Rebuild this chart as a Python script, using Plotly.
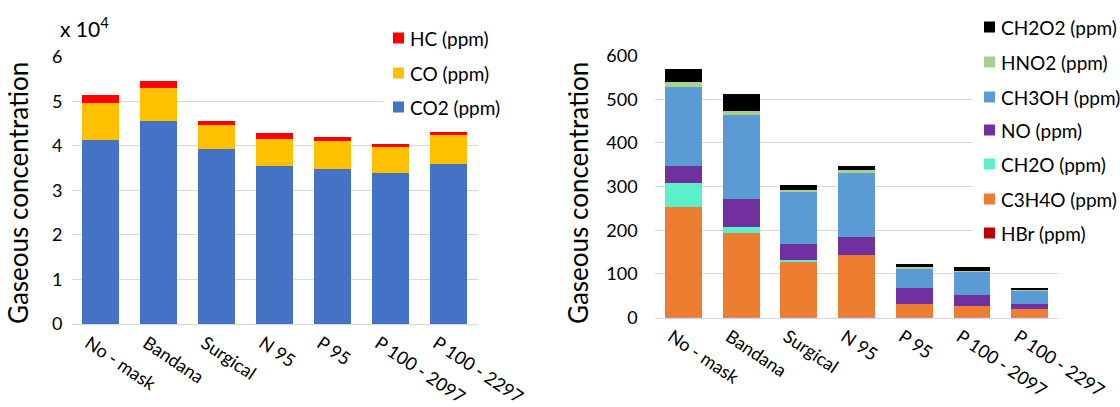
import plotly.graph_objects as go

W, H = 1120, 407
FONT = "Lato"

masks = ["No - mask", "Bandana", "Surgical", "N 95", "P 95", "P 100 - 2097", "P 100 - 2297"]

# Major exhaled gases (ppm)
co2 = [41400, 45500, 39200, 35400, 34900, 34000, 35900]
co = [8200, 7500, 5400, 6200, 6100, 5700, 6600]
hc = [1700, 1600, 1000, 1200, 1000, 600, 600]

# Minor gases (ppm)
hbr = [0.5, 0.5, 0.5, 0.5, 0.5, 0.5, 0.5]
c3h4o = [252, 193, 128, 143, 30, 27, 18]
ch2o = [55, 15, 4, 0, 0, 0, 0]
no = [40, 62, 36, 42, 36, 23, 12]
ch3oh = [180, 193, 121, 148, 46, 55, 32]
hno2 = [13, 10, 3, 4, 4, 2, 3]
ch2o2 = [30, 39, 11, 9, 7, 9, 3]

left_ticks = [0, 10000, 20000, 30000, 40000, 50000, 60000]
left_ticktext = ["0", "1", "2", "3", "4", "5", "6"]

left_series = [
    ("CO2 (ppm)", co2, "#4472C4"),
    ("CO (ppm)", co, "#FFC000"),
    ("HC (ppm)", hc, "#FF0000"),
]
right_series = [
    ("HBr (ppm)", hbr, "#C00000"),
    ("C3H4O (ppm)", c3h4o, "#ED7D31"),
    ("CH2O (ppm)", ch2o, "#5CF0CA"),
    ("NO (ppm)", no, "#7030A0"),
    ("CH3OH (ppm)", ch3oh, "#5B9BD5"),
    ("HNO2 (ppm)", hno2, "#A9D18E"),
    ("CH2O2 (ppm)", ch2o2, "#000000"),
]

fig = go.Figure()
for name, vals, col in left_series:
    fig.add_trace(go.Bar(x=masks, y=vals, name=name, marker_color=col,
                         marker_line_width=0, showlegend=False,
                         xaxis="x", yaxis="y"))
for name, vals, col in right_series:
    fig.add_trace(go.Bar(x=masks, y=vals, name=name, marker_color=col,
                         marker_line_width=0, showlegend=False,
                         xaxis="x2", yaxis="y2"))


def px_x(p):
    return p / W


def px_y(p):
    return 1 - p / H


tick_font = dict(family=FONT, size=18, color="#000000")
xaxis_common = dict(tickfont=dict(family=FONT, size=18, color="#000000"),
                    showgrid=False, ticks="", linecolor="#D9D9D9",
                    showline=True, linewidth=1, tickangle=34, automargin=False,
                    ticklabelshift=-12, ticklabelstandoff=1)
yaxis_common = dict(tickfont=tick_font, showgrid=True, gridcolor="#D9D9D9", gridwidth=1,
                    zeroline=False, showline=False, ticks="", automargin=False)

shapes = []
annotations = []


def add_legend(series, x_box, y_bottom, x_end, x_sq, rows):
    # white panel hiding the gridlines behind the key
    shapes.append(dict(type="rect", xref="paper", yref="paper", layer="above",
                       x0=px_x(x_box), x1=px_x(x_end), y0=px_y(y_bottom), y1=1,
                       fillcolor="white", line_width=0))
    for (name, _, col), yc in zip(reversed(series), rows):
        shapes.append(dict(type="rect", xref="paper", yref="paper", layer="above",
                           x0=px_x(x_sq), x1=px_x(x_sq + 11),
                           y0=px_y(yc + 5.5), y1=px_y(yc - 5.5),
                           fillcolor=col, line_width=0))
        annotations.append(dict(text=name, x=px_x(x_sq + 15), y=px_y(yc),
                                xref="paper", yref="paper", showarrow=False,
                                xanchor="left", yanchor="middle",
                                font=dict(family=FONT, size=19, color="#000000")))


add_legend(left_series, 383, 122, 477.5, 393, [38, 73, 107])
add_legend(right_series, 973, 250, 1058.6, 984, [27, 62, 97, 130, 164, 199, 233])

annotations += [
    dict(text="Gaseous concentration", textangle=-90, x=px_x(18), y=px_y(193),
         xref="paper", yref="paper", showarrow=False, xanchor="center", yanchor="middle",
         font=dict(family=FONT, size=26, color="#000000")),
    dict(text="Gaseous concentration", textangle=-90, x=px_x(578), y=px_y(193),
         xref="paper", yref="paper", showarrow=False, xanchor="center", yanchor="middle",
         font=dict(family=FONT, size=26, color="#000000")),
    dict(text="x 10<sup>4</sup>", x=px_x(58), y=px_y(27), xref="paper", yref="paper",
         showarrow=False, xanchor="left", yanchor="middle",
         font=dict(family=FONT, size=21, color="#000000")),
]

fig.update_layout(
    width=W, height=H,
    margin=dict(l=0, r=0, t=0, b=0),
    paper_bgcolor="white", plot_bgcolor="white",
    barmode="stack", bargap=0.362,
    showlegend=False,
    font=dict(family=FONT, color="#000000"),
    xaxis=dict(domain=[px_x(71.5), px_x(477.5)], anchor="y", **xaxis_common),
    yaxis=dict(domain=[px_y(324), px_y(56.7)], range=[0, 60000], anchor="x",
               tickvals=left_ticks, ticktext=left_ticktext, ticklabelstandoff=8,
               **yaxis_common),
    xaxis2=dict(domain=[px_x(654.6), px_x(1058.6)], anchor="y2", **xaxis_common),
    yaxis2=dict(domain=[px_y(317.5), px_y(55.7)], range=[0, 600], anchor="x2",
                dtick=100, ticklabelstandoff=16, **yaxis_common),
    shapes=shapes,
    annotations=annotations,
)

fig.write_html("out.html")
